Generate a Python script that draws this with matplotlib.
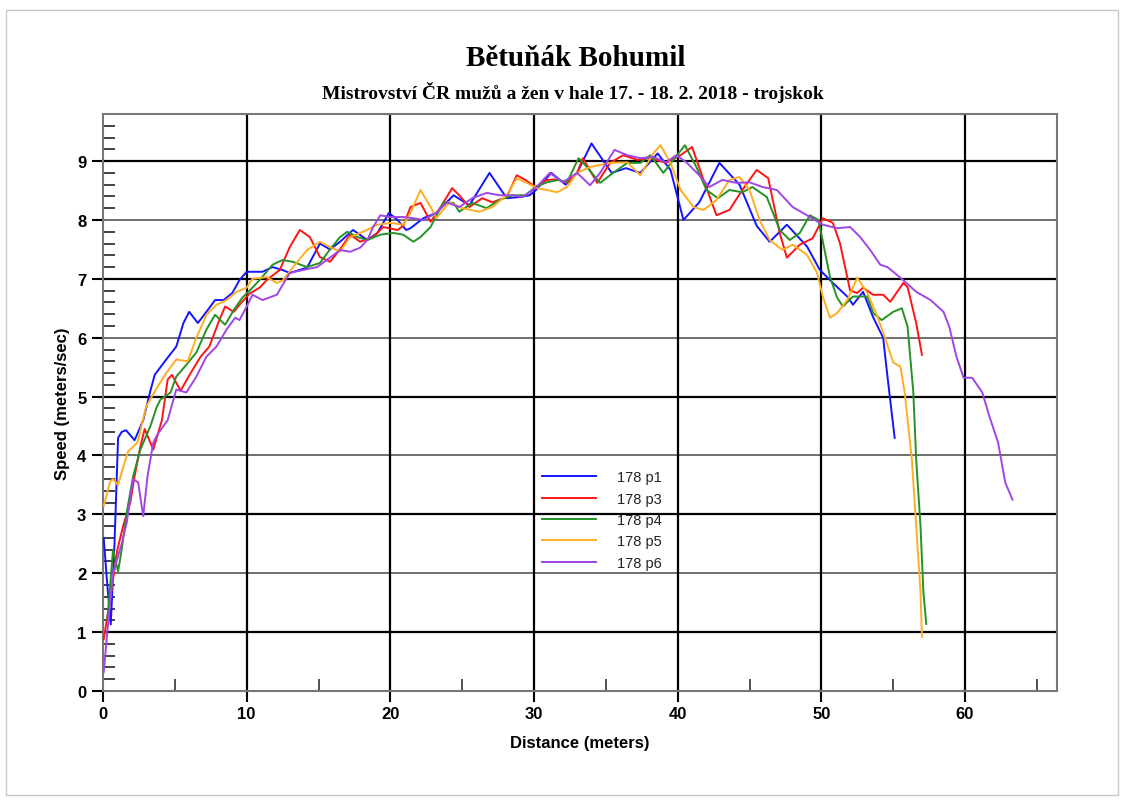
import matplotlib
matplotlib.use('Agg')
import matplotlib.pyplot as plt
from matplotlib.patches import Rectangle

# distance (m) / speed (m/s)
p1_d = [0.05, 0.3, 0.54, 0.8, 1.05, 1.3, 1.6, 2.2, 2.8, 3.3, 3.6, 4.4, 5.1, 5.6, 6.0, 6.6, 7.2, 7.8,
        8.4, 9.0, 9.5, 10.0, 10.5, 11.1, 11.8, 12.5, 13.0, 14.2, 15.1, 15.8, 16.5, 17.4, 18.4, 19.1,
        19.9, 20.5, 21.1, 21.4, 22.3, 23.2, 24.4, 25.5, 26.9, 28.1, 29.0, 29.7, 30.1, 31.2, 32.2,
        33.0, 34.0, 35.4, 36.4, 37.4, 38.6, 39.5, 40.4, 41.5, 42.9, 44.3, 45.5, 46.4, 47.6, 49.0,
        49.9, 50.8, 51.8, 52.2, 52.9, 53.6, 54.3, 54.6, 55.1]
p1_v = [2.6, 1.8, 1.13, 2.5, 4.3, 4.4, 4.43, 4.26, 4.6, 5.1, 5.37, 5.63, 5.85, 6.25, 6.44, 6.25, 6.44,
        6.64, 6.64, 6.76, 6.98, 7.12, 7.12, 7.12, 7.2, 7.15, 7.1, 7.19, 7.6, 7.5, 7.63, 7.83, 7.66,
        7.78, 8.12, 8.0, 7.83, 7.86, 8.03, 8.12, 8.42, 8.25, 8.8, 8.37, 8.39, 8.42, 8.5, 8.8, 8.6,
        8.8, 9.3, 8.8, 8.88, 8.8, 9.13, 8.85, 8.0, 8.3, 8.97, 8.6, 7.9, 7.63, 7.92, 7.55, 7.15,
        6.93, 6.7, 6.56, 6.78, 6.35, 6.0, 5.34, 4.3]

p3_d = [0.05, 0.5, 1.0, 1.4, 1.9, 2.2, 2.6, 2.9, 3.5, 4.1, 4.5, 4.8, 5.4, 6.1, 6.8, 7.4, 8.1, 8.5,
        9.1, 9.5, 10.2, 10.9, 11.4, 12.3, 13.0, 13.7, 14.4, 15.1, 15.8, 16.5, 17.2, 17.9, 18.8,
        19.5, 20.5, 20.9, 21.4, 22.1, 22.8, 23.5, 24.3, 24.8, 25.5, 26.4, 27.1, 28.1, 28.8, 29.4,
        30.1, 30.9, 31.6, 32.3, 33.0, 33.4, 34.4, 35.3, 36.2, 37.2, 38.1, 39.2, 40.2, 41.0, 41.8,
        42.7, 43.6, 44.5, 45.5, 46.3, 47.1, 47.6, 48.5, 49.4, 50.1, 50.8, 51.3, 51.8, 52.0, 52.5,
        52.9, 53.6, 54.3, 54.8, 55.7, 56.0, 56.6, 57.0]
p3_v = [0.88, 1.56, 2.4, 2.8, 3.2, 3.65, 4.15, 4.45, 4.1, 4.6, 5.29, 5.37, 5.1, 5.4, 5.68, 5.85, 6.3,
        6.53, 6.44, 6.56, 6.75, 6.85, 6.98, 7.15, 7.54, 7.83, 7.71, 7.37, 7.29, 7.5, 7.75, 7.63,
        7.71, 7.88, 7.83, 7.9, 8.22, 8.29, 7.97, 8.22, 8.54, 8.42, 8.22, 8.37, 8.3, 8.39, 8.76,
        8.68, 8.56, 8.68, 8.69, 8.63, 8.8, 9.05, 8.63, 8.97, 9.1, 9.02, 9.05, 8.97, 9.1, 9.24,
        8.68, 8.08, 8.17, 8.51, 8.85, 8.71, 7.78, 7.36, 7.58, 7.69, 8.03, 7.95, 7.6, 7.03, 6.8,
        6.76, 6.85, 6.73, 6.73, 6.61, 6.93, 6.86, 6.25, 5.71]

p4_d = [0.3, 0.7, 1.05, 1.3, 1.65, 2.1, 2.6, 3.3, 3.75, 4.0, 4.7, 5.1, 5.8, 6.5, 7.2, 7.8, 8.5, 9.1,
        9.7, 10.4, 10.9, 11.8, 12.5, 13.2, 14.2, 15.1, 15.8, 16.5, 17.0, 17.7, 18.4, 19.3, 20.2,
        20.9, 21.6, 22.1, 22.8, 23.7, 24.4, 24.8, 25.7, 26.7, 27.6, 28.5, 29.4, 30.1, 30.9, 31.7,
        32.3, 33.1, 33.5, 34.6, 35.5, 36.5, 37.4, 38.1, 39.0, 39.7, 40.5, 41.3, 42.0, 42.8, 43.6,
        44.5, 45.2, 46.2, 47.1, 47.8, 48.5, 49.2, 49.8, 50.6, 51.1, 51.5, 52.2, 53.2, 53.6, 54.2,
        55.0, 55.6, 56.0, 56.4, 56.6, 56.9, 57.1, 57.3]
p4_v = [1.2, 2.4, 2.03, 2.4, 3.03, 3.65, 4.1, 4.5, 4.83, 4.95, 5.07, 5.34, 5.54, 5.75, 6.14, 6.39,
        6.22, 6.47, 6.68, 6.85, 6.98, 7.24, 7.32, 7.29, 7.2, 7.27, 7.5, 7.71, 7.8, 7.71, 7.66,
        7.75, 7.78, 7.75, 7.63, 7.71, 7.88, 8.3, 8.29, 8.14, 8.29, 8.2, 8.34, 8.42, 8.42, 8.56,
        8.64, 8.68, 8.64, 9.05, 8.95, 8.63, 8.8, 8.97, 8.97, 9.1, 8.8, 9.02, 9.27, 8.9, 8.51,
        8.37, 8.51, 8.47, 8.56, 8.39, 7.83, 7.66, 7.78, 8.08, 8.0, 7.03, 6.68, 6.53, 6.7, 6.7,
        6.42, 6.3, 6.44, 6.5, 6.19, 5.07, 3.93, 2.8, 1.68, 1.14]

p5_d = [0.05, 0.5, 0.7, 1.05, 1.4, 1.75, 2.4, 3.0, 3.8, 4.4, 5.1, 5.9, 6.5, 7.2, 7.9, 8.6, 9.3, 10.0,
        10.4, 11.4, 12.1, 12.5, 13.2, 14.2, 15.1, 15.8, 16.5, 17.2, 18.1, 19.1, 20.0, 20.9, 21.4,
        22.1, 22.8, 23.2, 24.1, 25.0, 26.2, 27.1, 28.1, 28.8, 29.5, 30.2, 30.9, 31.6, 32.3, 33.0,
        33.9, 35.3, 36.5, 37.4, 38.3, 38.8, 39.5, 40.2, 41.1, 41.8, 42.7, 43.6, 44.3, 45.0, 45.7,
        46.4, 47.3, 48.0, 49.0, 49.7, 50.1, 50.6, 51.1, 51.8, 52.5, 53.2, 53.9, 54.4, 55.0, 55.5,
        55.8, 56.3, 56.6, 56.9, 57.0]
p5_v = [3.14, 3.56, 3.6, 3.5, 3.8, 4.07, 4.22, 4.83, 5.17, 5.4, 5.63, 5.6, 6.0, 6.39, 6.56, 6.64,
        6.78, 6.85, 7.0, 7.03, 6.93, 6.97, 7.19, 7.49, 7.63, 7.54, 7.46, 7.71, 7.8, 7.92, 7.95,
        7.92, 8.12, 8.51, 8.22, 8.03, 8.3, 8.2, 8.14, 8.22, 8.42, 8.71, 8.63, 8.54, 8.51, 8.47,
        8.56, 8.8, 8.9, 8.97, 8.98, 8.76, 9.13, 9.27, 8.97, 8.51, 8.22, 8.17, 8.34, 8.68, 8.73,
        8.51, 8.0, 7.66, 7.49, 7.58, 7.41, 7.1, 6.7, 6.34, 6.42, 6.64, 7.02, 6.76, 6.36, 6.02,
        5.58, 5.51, 5.07, 3.93, 2.8, 1.68, 0.92]

p6_d = [0.05, 0.3, 0.7, 1.3, 1.65, 2.1, 2.45, 2.8, 3.1, 3.5, 3.8, 4.5, 5.1, 5.8, 6.5, 7.2, 7.9, 8.6,
        9.2, 9.5, 10.0, 10.4, 11.1, 12.1, 13.0, 13.9, 14.9, 15.8, 16.5, 17.2, 17.9, 18.4, 18.8,
        19.3, 20.0, 20.9, 21.6, 22.3, 23.2, 23.9, 24.8, 25.7, 26.7, 27.6, 28.5, 29.2, 30.1, 31.1,
        32.0, 33.0, 33.9, 34.6, 35.6, 36.5, 37.4, 38.3, 39.2, 39.9, 40.6, 41.5, 42.2, 43.1, 44.1,
        45.0, 45.9, 46.9, 48.0, 49.0, 50.1, 51.1, 52.0, 52.7, 53.4, 54.1, 54.6, 55.5, 56.6, 57.6,
        58.5, 58.9, 59.4, 59.9, 60.5, 61.2, 61.7, 62.3, 62.8, 63.3]
p6_v = [0.32, 1.0, 2.0, 2.5, 2.86, 3.6, 3.54, 2.97, 3.65, 4.22, 4.36, 4.6, 5.12, 5.07, 5.34, 5.68,
        5.85, 6.14, 6.34, 6.3, 6.53, 6.73, 6.64, 6.73, 7.1, 7.15, 7.2, 7.36, 7.49, 7.46, 7.53,
        7.66, 7.88, 8.08, 8.05, 8.05, 8.03, 8.0, 8.12, 8.3, 8.22, 8.37, 8.46, 8.42, 8.42, 8.39,
        8.54, 8.8, 8.64, 8.8, 8.59, 8.8, 9.19, 9.1, 9.05, 9.07, 8.98, 9.1, 8.98, 8.76, 8.56,
        8.68, 8.63, 8.64, 8.56, 8.51, 8.22, 8.08, 7.92, 7.86, 7.88, 7.71, 7.49, 7.24, 7.2, 7.02,
        6.78, 6.64, 6.44, 6.19, 5.68, 5.32, 5.32, 5.07, 4.66, 4.22, 3.54, 3.25]

labels = ['178 p1', '178 p3', '178 p4', '178 p5', '178 p6']
colors = ['#1414ff', '#ff1414', '#259225', '#ffad21', '#a045e6']
series = [(p1_d, p1_v), (p3_d, p3_v), (p4_d, p4_v), (p5_d, p5_v), (p6_d, p6_v)]

title = 'Bětuňák Bohumil'
subtitle = 'Mistrovství ČR mužů a žen v hale 17. - 18. 2. 2018 - trojskok'

plt.rcParams['font.family'] = ['Liberation Sans', 'DejaVu Sans']

fig = plt.figure(figsize=(11.26, 8.03), dpi=100)
fig.patches.append(Rectangle((6 / 1126, 7 / 803), 1112 / 1126, 785 / 803, transform=fig.transFigure,
                             fill=False, edgecolor='#c8c8c8', linewidth=1))
ax = fig.add_axes([103 / 1126, 111 / 803, 954 / 1126, 577 / 803])

ax.set_xlim(0, 66.4)
ax.set_ylim(0, 9.8)

# grid: odd speeds darker
for v in range(1, 10):
    if v % 2:
        ax.axhline(v, color='black', lw=1.6, zorder=1)
    else:
        ax.axhline(v, color='#555555', lw=1.2, zorder=1)
for d in range(10, 61, 10):
    ax.axvline(d, color='black', lw=1.6, zorder=1)

for (d, v), c, lab in zip(series, colors, labels):
    ax.plot(d, v, color=c, lw=1.4, label=lab, zorder=3, solid_joinstyle='round')

ax.set_xticks(range(0, 61, 10))
ax.set_xticks(range(5, 66, 10), minor=True)
ax.set_yticks(range(0, 10))
ax.set_yticks([i * 0.2 for i in range(50)], minor=True)

ax.tick_params(axis='both', which='major', direction='out', length=8, width=1.5,
               labelsize=12, colors='black')
ax.tick_params(axis='y', which='major', pad=4)
ax.tick_params(axis='x', which='major', pad=3)
ax.tick_params(axis='y', which='minor', direction='in', length=8.5, width=1.3, color='#333333')
ax.tick_params(axis='x', which='minor', direction='in', length=8.5, width=1.2, color='#333333')
for lab in ax.get_xticklabels() + ax.get_yticklabels():
    lab.set_fontweight('bold')

for s in ax.spines.values():
    s.set_color('#777777')
    s.set_linewidth(1.5)

ax.set_xlabel('Distance (meters)', fontsize=12, fontweight='bold', labelpad=10)
ax.set_ylabel('Speed (meters/sec)', fontsize=12, fontweight='bold', labelpad=5)

leg = ax.legend(loc='upper left', bbox_to_anchor=(0.446, 0.405), frameon=False, fontsize=10.5,
                handlelength=3.7, handletextpad=1.5, labelspacing=0.5)
for t in leg.get_texts():
    t.set_color('#222222')

fig.text(0.511, 0.927, title, ha='center', va='center', fontsize=21, fontweight='bold',
         family='Liberation Serif')
fig.text(0.509, 0.885, subtitle, ha='center', va='center', fontsize=14, fontweight='bold',
         family='Liberation Serif')

fig.savefig('out.png', dpi=100)
